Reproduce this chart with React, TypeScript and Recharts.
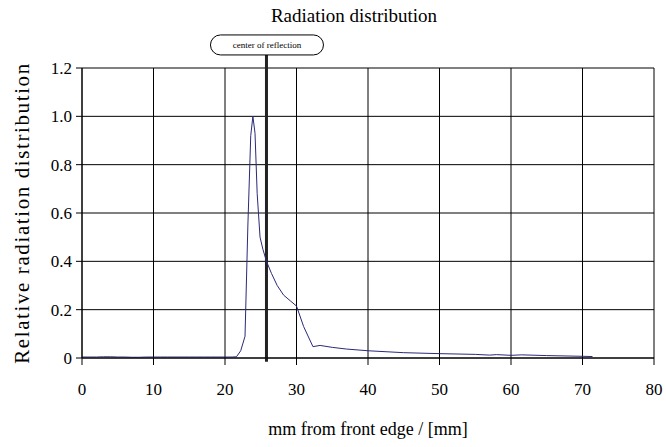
import { LineChart, Line, XAxis, YAxis, CartesianGrid, ReferenceLine } from 'recharts';

const positions = [
  0, 1, 2, 3, 4, 5, 6, 7, 8, 9, 10, 11, 12, 13, 14, 15, 16, 17, 18, 19, 20, 21,
  21.6, 22.2, 22.8, 23.2, 23.6, 23.9, 24.2, 24.5, 24.9, 25.3, 25.8, 26.5, 27.3,
  28.2, 29.2, 30.0, 31.0, 32.3, 33.3, 35, 37, 40, 45, 50, 55, 57, 58, 60, 61.5,
  65, 70, 71.4,
];
const radiation = [
  0.004, 0.004, 0.004, 0.005, 0.005, 0.004, 0.004, 0.003, 0.003, 0.004, 0.004,
  0.004, 0.004, 0.004, 0.004, 0.004, 0.004, 0.004, 0.004, 0.004, 0.004, 0.004,
  0.005, 0.03, 0.09, 0.55, 0.92, 1.0, 0.93, 0.68, 0.5, 0.45, 0.4, 0.35, 0.3,
  0.26, 0.235, 0.215, 0.13, 0.047, 0.052, 0.044, 0.037, 0.03, 0.022, 0.018,
  0.015, 0.012, 0.014, 0.011, 0.013, 0.01, 0.007, 0.006,
];
const xTicks = [0, 10, 20, 30, 40, 50, 60, 70, 80];
const yTicks = [0, 0.2, 0.4, 0.6, 0.8, 1.0, 1.2];
const reflectionCenter = 25.8;

const data = positions.map((x, i) => ({ x, value: radiation[i] }));

const font = '"Liberation Serif", "DejaVu Serif", serif';

function ReflectionLabel(props: any) {
  const vb = props.viewBox || {};
  const cx = vb.x;
  const top = vb.y;
  return (
    <g>
      <rect x={cx - 56} y={top - 20} width={113} height={20} rx={10} fill="#fff" stroke="#000" strokeWidth={1} />
      <text x={cx + 0.5} y={top - 7} textAnchor="middle" fontSize={9} fontFamily={font} fill="#000">
        center of reflection
      </text>
    </g>
  );
}

export default function App() {
  return (
    <div style={{ position: 'relative', width: 666, height: 447, background: '#fff', fontFamily: font }}>
      <style>{'body{margin:0;overflow:hidden}'}</style>
      <div style={{ position: 'absolute', top: 5, left: 0, width: 666, boxSizing: 'border-box', paddingLeft: 42, textAlign: 'center', fontSize: 19 }}>
        Radiation distribution
      </div>
      <LineChart width={666} height={447} data={data} margin={{ top: 68, right: 12, bottom: 0, left: 0 }} style={{ overflow: 'visible' }}>
        <CartesianGrid stroke="#000" strokeWidth={1} />
        <XAxis
          dataKey="x"
          type="number"
          domain={[0, 80]}
          ticks={xTicks}
          interval={0}
          height={89}
          tickSize={7}
          tickMargin={18}
          stroke="#000"
          tick={{ fill: '#000', fontSize: 17, fontFamily: font }}
          label={{ value: 'mm from front edge / [mm]', position: 'insideBottom', offset: 12, fill: '#000', fontSize: 18, fontFamily: font }}
        />
        <YAxis
          domain={[0, 1.2]}
          ticks={yTicks}
          width={82}
          tickSize={6}
          tickMargin={4}
          stroke="#000"
          tickFormatter={(v: number) => (v === 0 ? '0' : v.toFixed(1))}
          tick={{ fill: '#000', fontSize: 17, fontFamily: font }}
          label={{ value: 'Relative radiation distribution', angle: -90, position: 'center', dx: -19, fill: '#000', fontSize: 21, letterSpacing: 1.6, fontFamily: font }}
        />
        <ReferenceLine
          segment={[{ x: reflectionCenter, y: -0.015 }, { x: reflectionCenter, y: 1.254 }]}
          ifOverflow="visible"
          stroke="#222"
          strokeWidth={3}
          label={<ReflectionLabel />}
        />
        <Line
          type="linear"
          dataKey="value"
          stroke="#2a2a7a"
          strokeWidth={1}
          dot={false}
          isAnimationActive={false}
        />
      </LineChart>
    </div>
  );
}
